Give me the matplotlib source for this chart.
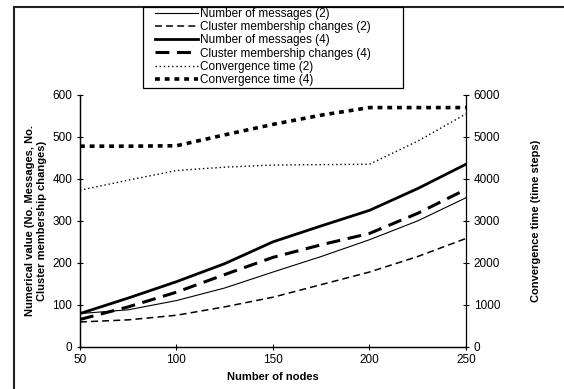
import matplotlib
matplotlib.use("Agg")
import matplotlib.pyplot as plt
from matplotlib.lines import Line2D
from matplotlib.patches import Rectangle

plt.rcParams["font.family"] = ["Liberation Sans", "DejaVu Sans"]
plt.rcParams["lines.scale_dashes"] = False

# data
nodes = [50, 75, 100, 125, 150, 175, 200, 225, 250]
msg_2 = [79, 88, 110, 140, 178, 215, 255, 300, 355]
cmc_2 = [59, 64, 75, 95, 118, 148, 178, 215, 258]
msg_4 = [79, 116, 155, 198, 250, 288, 325, 377, 435]
cmc_4 = [65, 95, 130, 172, 213, 243, 270, 318, 375]
conv_2 = [3730, 3970, 4200, 4280, 4330, 4340, 4350, 4900, 5550]
conv_4 = [4780, 4780, 4790, 5050, 5300, 5520, 5700, 5700, 5700]

W, H = 564, 389
fig = plt.figure(figsize=(W / 100, H / 100), dpi=100)
ax = fig.add_axes([0.1418, 0.1087, 0.6844, 0.6471])
ax2 = ax.twinx()

h1, = ax.plot(nodes, msg_2, color="black", lw=0.8, label="Number of messages (2)")
h2, = ax.plot(nodes, cmc_2, color="black", lw=1.1, ls=(0, (5, 3)),
              label="Cluster membership changes (2)")
h3, = ax.plot(nodes, msg_4, color="black", lw=2.0, label="Number of messages (4)")
h4, = ax.plot(nodes, cmc_4, color="black", lw=2.2, ls=(0, (10, 5.5)),
              label="Cluster membership changes (4)")
h5, = ax2.plot(nodes, conv_2, color="black", lw=1.0, ls=(0, (1, 2)),
               label="Convergence time (2)")
h6, = ax2.plot(nodes, conv_4, color="black", lw=2.6, ls=(0, (3.5, 3.5)),
               label="Convergence time (4)")

ax.set_xlim(50, 250)
ax.set_ylim(0, 600)
ax2.set_ylim(0, 6000)
ax.set_xticks([50, 100, 150, 200, 250])
ax.set_yticks(range(0, 601, 100))
ax2.set_yticks(range(0, 6001, 1000))

for a in (ax, ax2):
    a.spines["top"].set_visible(False)
    for s in a.spines.values():
        s.set_linewidth(0.9)
ax.spines["right"].set_visible(False)
ax.tick_params(direction="inout", length=5, width=0.8, labelsize=8.5, pad=3)
ax2.tick_params(direction="inout", length=5, width=0.8, labelsize=8.5, pad=3)

ax.set_xlabel("Number of nodes", fontsize=8, fontweight="bold", labelpad=4)
ax.set_ylabel("Numerical value (No. Messages, No.\nCluster membership changes)",
              fontsize=8, fontweight="bold", labelpad=4)
ax2.set_ylabel("Convergence time (time steps)", fontsize=8, fontweight="bold",
               labelpad=22)

# legend: entries without frame, box drawn separately (Excel style padding)
leg = fig.legend(handles=[h1, h2, h3, h4, h5, h6], loc="upper left",
                 bbox_to_anchor=(155 / W, 1 - 8 / H), fontsize=8.5,
                 handlelength=3.6, handletextpad=0.25, labelspacing=0.1,
                 borderpad=0.0, borderaxespad=0, frameon=False)
fig.add_artist(Rectangle((143 / W, 1 - 88 / H), 260 / W, 81 / H,
                         transform=fig.transFigure, facecolor="white",
                         edgecolor="black", lw=0.9, zorder=3))
leg.set_zorder(5)

# outer chart border (only left and top visible)
fig.add_artist(Line2D([14 / W, 14 / W], [0, 1 - 7 / H], color="#222",
                      lw=1.5, transform=fig.transFigure, zorder=1))
fig.add_artist(Line2D([14 / W, 1], [1 - 7 / H, 1 - 7 / H], color="#222",
                      lw=1.5, transform=fig.transFigure, zorder=1))

fig.savefig("out.png", dpi=100, facecolor="white")
